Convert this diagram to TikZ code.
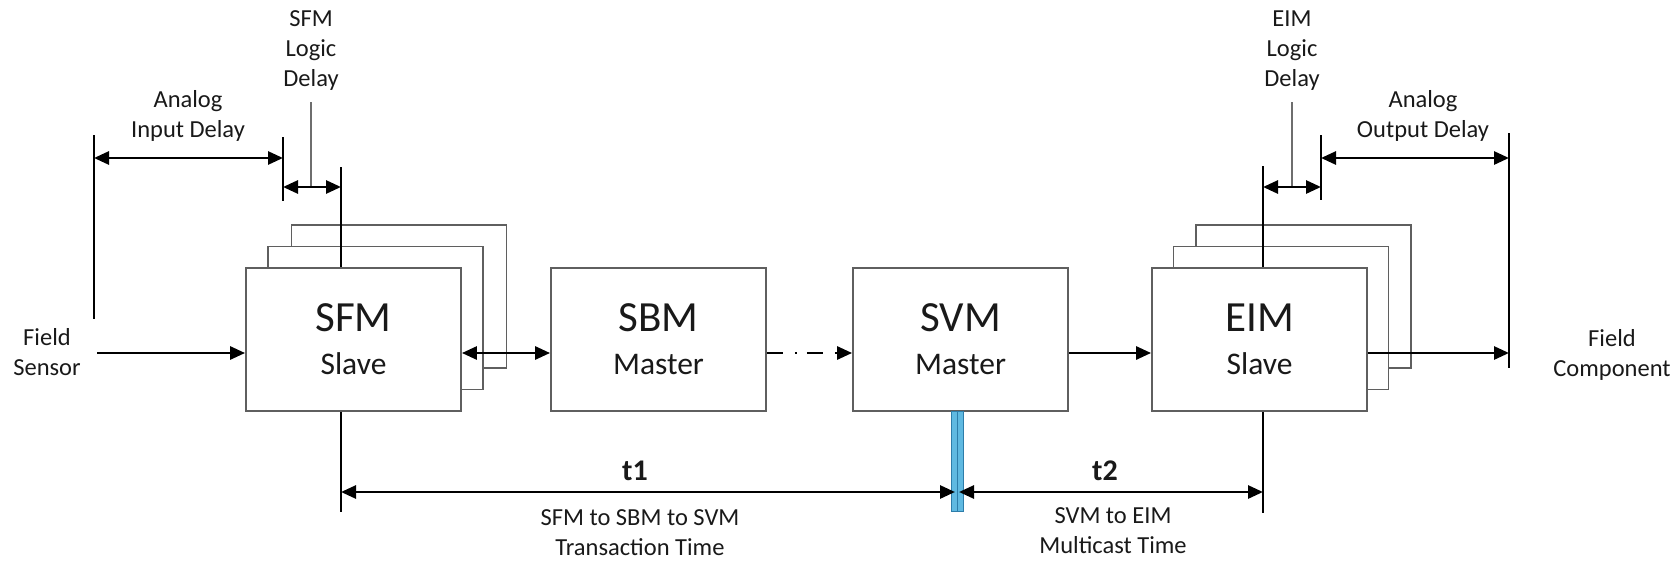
\documentclass[tikz,border=0pt]{standalone}
\usepackage{fontspec}
\setmainfont{Carlito}
\usetikzlibrary{arrows.meta}
\definecolor{boxline}{RGB}{95,95,95}
\definecolor{leadc}{RGB}{110,110,110}
\definecolor{barfill}{RGB}{95,185,225}
\definecolor{barline}{RGB}{45,125,170}
\definecolor{txt}{RGB}{25,25,25}
\newcommand{\bigT}{\fontsize{43}{43}\selectfont}
\newcommand{\subT}{\fontsize{31.5}{43}\selectfont}
\tikzset{
  blk/.style={draw=boxline, line width=1.8pt, fill=white, minimum width=215pt, minimum height=143pt, inner sep=0pt, align=center, text=txt, font=\subT},
  ghost/.style={draw=boxline, line width=1.8pt, fill=white, minimum width=215pt, minimum height=143pt, inner sep=0pt},
  vbar/.style={line width=2.75pt, black},
  dim/.style={line width=2.75pt, {Triangle[length=15pt,width=13pt]}-{Triangle[length=15pt,width=13pt]}},
  arr/.style={line width=2.75pt, -{Triangle[length=15pt,width=13pt]}},
  lbl/.style={font=\fontsize{24.5}{30}\selectfont, align=center, text=txt, inner sep=0pt},
  tlbl/.style={font=\fontsize{30}{34}\selectfont\bfseries, text=txt, inner sep=0pt},
  ldr/.style={draw=leadc, line width=1.5pt},
  cyanbar/.style={draw=barline, fill=barfill, line width=1pt},
}
\begin{document}
\begin{tikzpicture}[x=1pt,y=-1pt]
\useasboundingbox (0,0) rectangle (1673,562);

% stacked back boxes
\node[ghost] (sfm3) at (399,296.5) {};
\node[ghost] (sfm2) at (375.5,318) {};
\node[ghost] (eim3) at (1303.5,296.5) {};
\node[ghost] (eim2) at (1281,318) {};

% main blocks
\node[blk] (sfm) at (353.5,339.5) {{\bigT SFM}\\Slave};
\node[blk] (sbm) at (658.5,339.5) {{\bigT SBM}\\Master};
\node[blk] (svm) at (960.5,339.5) {{\bigT SVM}\\Master};
\node[blk] (eim) at (1259.5,339.5) {{\bigT EIM}\\Slave};

% labels
\node[lbl] (fs) at (47,352) {Field\\Sensor};
\node[lbl] (fc) at (1612,354.5) {Field\\Component};
\node[lbl] (sld) at (311,51) {SFM\\Logic\\Delay};
\node[lbl] (eld) at (1292,51) {EIM\\Logic\\Delay};
\node[lbl] (aid) at (188,115.5) {Analog\\Input Delay};
\node[lbl] (aod) at (1423,115.5) {Analog\\Output Delay};
\node[tlbl] (t1) at (635,470.5) {t1};
\node[tlbl] (t2) at (1105,470.5) {t2};
\node[lbl] (t1d) at (640,532.5) {SFM to SBM to SVM\\Transaction Time};
\node[lbl] (t2d) at (1113,531) {SVM to EIM\\Multicast Time};

% reference coordinates
\coordinate (row) at (0,353);
\coordinate (fsR) at (97,353);
\coordinate (aiLt) at (94,135);   \coordinate (aiLb) at (94,319);
\coordinate (aiRt) at (283,137);  \coordinate (aiRb) at (283,201);
\coordinate (sfmT) at (341,167);  \coordinate (sfmB) at (341,512);
\coordinate (eimT) at (1263,166); \coordinate (eimB) at (1263,513);
\coordinate (eoLt) at (1321,135); \coordinate (eoLb) at (1321,200);
\coordinate (aoRt) at (1509,133); \coordinate (aoRb) at (1509,368);
\coordinate (sldL) at (311,102);  \coordinate (eldL) at (1292,102);
\coordinate (ct1) at (955,492);   \coordinate (ct2) at (959,492);

% cyan marker under SVM
\draw[cyanbar] (951,411) rectangle (957,511);
\draw[cyanbar] (957,411) rectangle (963,511);

% vertical bars
\draw[vbar] (aiLt) -- (aiLb);
\draw[vbar] (aiRt) -- (aiRb);
\draw[vbar] (sfmT) -- (sfmT |- sfm.north);
\draw[vbar] (sfmB |- sfm.south) -- (sfmB);
\draw[vbar] (eimT) -- (eimT |- eim.north);
\draw[vbar] (eimB |- eim.south) -- (eimB);
\draw[vbar] (eoLt) -- (eoLb);
\draw[vbar] (aoRt) -- (aoRb);

% leader lines
\draw[ldr] (sldL) -- (sldL |- 0,187);
\draw[ldr] (eldL) -- (eldL |- 0,187);

% dimension arrows
\draw[dim] (aiLt |- 0,158) -- (aiRt |- 0,158);
\draw[dim] (aiRt |- 0,187) -- (sfmT |- 0,187);
\draw[dim] (eimT |- 0,187) -- (eoLt |- 0,187);
\draw[dim] (eoLt |- 0,158) -- (aoRt |- 0,158);
\draw[dim] (sfmB |- ct1) -- (ct1);
\draw[dim] (ct2) -- (eimB |- ct2);

% signal flow
\draw[arr] (fsR) -- (sfm.west |- row);
\draw[dim] (sfm.east |- row) -- (sbm.west |- row);
\draw[line width=2.75pt, dash pattern=on 16pt off 12pt on 2pt off 10pt, -{Triangle[length=15pt,width=13pt]}] (sbm.east |- row) -- (svm.west |- row);
\draw[arr] (svm.east |- row) -- (eim.west |- row);
\draw[arr] (eim.east |- row) -- (aoRt |- row);
\end{tikzpicture}
\end{document}
